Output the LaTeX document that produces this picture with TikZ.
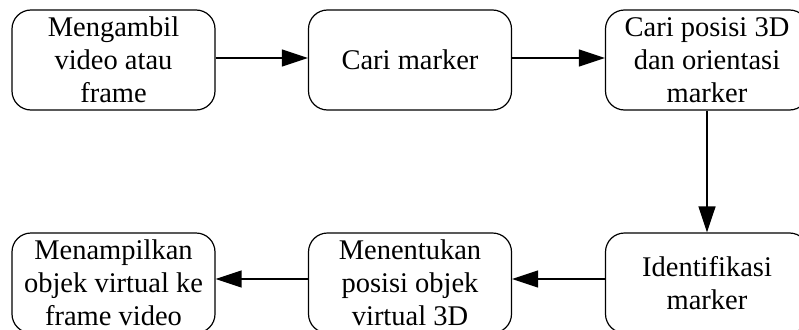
\documentclass[tikz,border=0pt]{standalone}
\usepackage{fontspec}
\setmainfont{Liberation Serif}
\usetikzlibrary{arrows.meta}
\begin{document}
\begin{tikzpicture}[x=1pt,y=-1pt,
  stepbox/.style={draw, line width=1.2pt, rounded corners=19pt,
    minimum width=203pt, minimum height=100pt, inner sep=0pt,
    align=center, font=\fontsize{28.5}{33}\selectfont},
  flow/.style={line width=1.4pt, -{Triangle[length=26pt,width=17pt]}}]
  \useasboundingbox (0,0) rectangle (799,329);
  \clip (0,0) rectangle (799,329);
  % top row
  \node[stepbox] (ambil) at (113.5,60) {Mengambil\\video atau\\frame};
  \node[stepbox] (cari) at (410,60) {Cari marker};
  \node[stepbox] (posisi) at (707,60) {Cari posisi 3D\\dan orientasi\\marker};
  % bottom row
  \node[stepbox] (tampil) at (113.5,283) {Menampilkan\\objek virtual ke\\frame video};
  \node[stepbox] (tentu) at (410,283) {Menentukan\\posisi objek\\virtual 3D};
  \node[stepbox] (ident) at (707,283) {Identifikasi\\marker};
  % connectors
  \draw[flow] (ambil.east |- 0,58) -- (cari.west |- 0,58);
  \draw[flow] (cari.east |- 0,58) -- (posisi.west |- 0,58);
  \draw[flow] (posisi) -- (ident);
  \draw[flow] (ident.west |- 0,279) -- (tentu.east |- 0,279);
  \draw[flow] (tentu.west |- 0,279) -- (tampil.east |- 0,279);
\end{tikzpicture}
\end{document}
